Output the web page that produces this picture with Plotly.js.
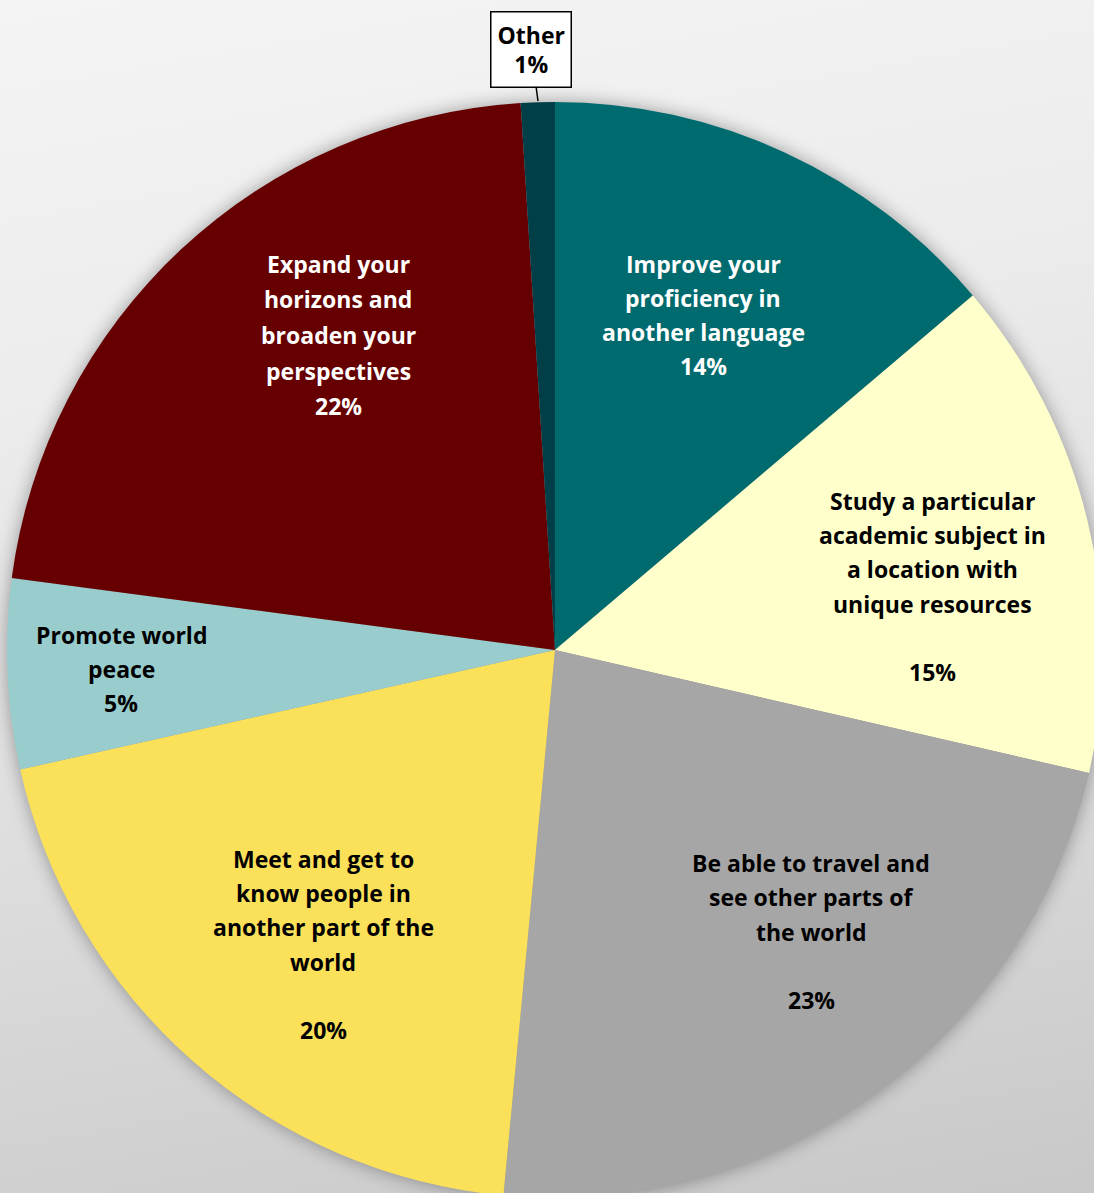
<!DOCTYPE html>
<html>
<head>
<meta charset="utf-8">
<script src="https://cdn.plot.ly/plotly-3.0.1.min.js"></script>
<style>
  html, body { margin: 0; padding: 0; overflow: hidden; width: 1094px; height: 1193px;
    background: linear-gradient(170deg, #f4f4f4 0%, #ececec 30%, #dcdcdc 65%, #c8c8c8 100%); }
  #chart { position: absolute; left: 0; top: 0; width: 1110px; height: 1200px; }
  .pielayer { filter: drop-shadow(0px 0px 9px rgba(0,0,0,0.35)); }
</style>
</head>
<body>
<div id="chart"></div>
<script>
// ---- data ----
const categories = [
  "Improve your proficiency in another language",
  "Study a particular academic subject in a location with unique resources",
  "Be able to travel and see other parts of the world",
  "Meet and get to know people in another part of the world",
  "Promote world peace",
  "Expand your horizons and broaden your perspectives",
  "Other"
];
const values = [13.8, 14.8, 22.9, 20.0, 5.6, 21.9, 1.0];
const pctLabels = ["14%", "15%", "23%", "20%", "5%", "22%", "1%"];
const wrappedNames = [
  ["Improve your", "proficiency in", "another language"],
  ["Study a particular", "academic subject in", "a location with", "unique resources", ""],
  ["Be able to travel and", "see other parts of", "the world", ""],
  ["Meet and get to", "know people in", "another part of the", "world", ""],
  ["Promote world", "peace"],
  ["Expand your", "horizons and", "broaden your", "perspectives"],
  ["Other"]
];
const colors = ["#006b6e", "#ffffcc", "#a6a6a6", "#fbe05a", "#99cccc", "#660000", "#003f48"];
const textColors = ["#ffffff", "#000000", "#000000", "#000000", "#000000", "#ffffff", "#000000"];

// ---- layout helpers ----
const W = 1110, H = 1200;
const px = x => x / W;
const py = y => 1 - y / H;
const FONT = '"Open Sans", Lato, sans-serif';
const FS = 23;
// label block anchor (first line centre) in pixels and line spacing
const labelPos = [
  {x: 703, y: 264, dy: 34},
  {x: 932, y: 501, dy: 34.2},
  {x: 811, y: 863, dy: 34.3},
  {x: 323, y: 859, dy: 34.2},
  {x: 121, y: 635, dy: 34},
  {x: 338, y: 264, dy: 35.5},
  null
];

const annotations = [];
categories.forEach((c, i) => {
  const pos = labelPos[i];
  if (!pos) return;
  const lines = wrappedNames[i].concat([pctLabels[i]]);
  lines.forEach((ln, k) => {
    if (!ln) return;
    annotations.push({
      xref: 'paper', yref: 'paper',
      x: px(pos.x), y: py(pos.y + k * pos.dy),
      xanchor: 'center', yanchor: 'middle',
      text: '<b>' + ln + '</b>', showarrow: false,
      font: {family: FONT, size: FS, color: textColors[i]}
    });
  });
});
// callout for the small "Other" slice
annotations.push({
  xref: 'paper', yref: 'paper',
  x: px(538), y: py(101),
  ax: -7, ay: -52,
  text: '<b>' + wrappedNames[6][0] + '<br>' + pctLabels[6] + '</b>',
  showarrow: true, arrowhead: 0, arrowwidth: 1.5, arrowcolor: '#000',
  bgcolor: '#ffffff', bordercolor: '#000000', borderwidth: 1.5, borderpad: 6,
  font: {family: FONT, size: FS, color: '#000'}
});

const trace = {
  type: 'pie',
  labels: categories,
  values: values,
  sort: false,
  direction: 'clockwise',
  rotation: 0,
  textinfo: 'none',
  marker: {colors: colors, line: {width: 0}},
  domain: {x: [px(7), px(1103)], y: [py(1198), py(102)]},
  showlegend: false,
  hoverinfo: 'none'
};

const layout = {
  width: W, height: H,
  margin: {l: 0, r: 0, t: 0, b: 0},
  paper_bgcolor: 'rgba(0,0,0,0)',
  plot_bgcolor: 'rgba(0,0,0,0)',
  showlegend: false,
  annotations: annotations
};

Plotly.newPlot('chart', [trace], layout, {staticPlot: true, displayModeBar: false});
</script>
</body>
</html>
